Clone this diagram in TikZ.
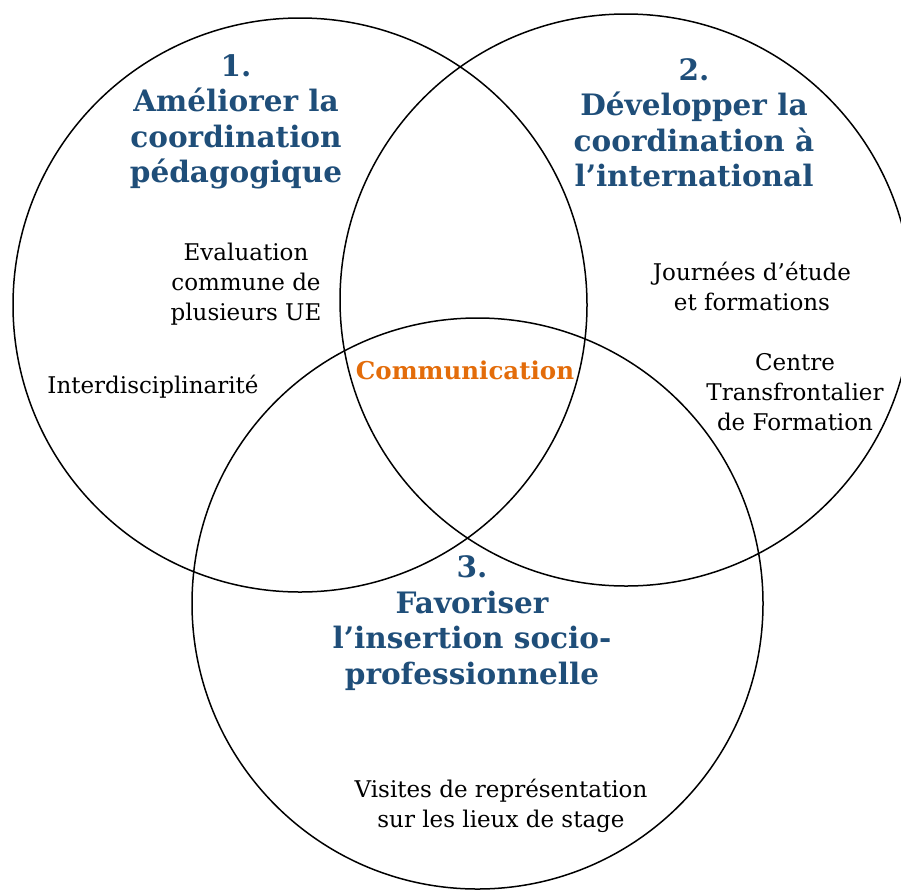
\documentclass[tikz,border=0pt]{standalone}
\usepackage{fontspec}
\setmainfont{DejaVu Serif}
\definecolor{headblue}{HTML}{1F4E79}
\definecolor{comorange}{HTML}{E36C0A}
\tikzset{
  venn/.style={draw=black, line width=1.5pt},
  heading/.style={text=headblue, align=center, inner sep=0pt, font=\bfseries\fontsize{29.5}{35.5}\selectfont},
  body/.style={text=black, align=center, inner sep=0pt, font=\fontsize{23}{30}\selectfont},
  common/.style={text=comorange, inner sep=0pt, font=\bfseries\fontsize{24.5}{28}\selectfont}
}
\begin{document}
\begin{tikzpicture}[x=1pt,y=-1pt]
\useasboundingbox (0,0) rectangle (901,889);
\draw[venn] (300,305) circle[radius=287pt];
\draw[venn] (626,300) circle[radius=286pt];
\draw[venn] (477.5,603.5) circle[radius=285.5pt];
\node[heading] (h1) at (236,122) {1.\\Améliorer la\\coordination\\pédagogique};
\node[heading] (h2) at (694,123) {2.\\Développer la\\coordination à\\l’international};
\node[heading] (h3) at (472,623) {3.\\Favoriser\\l’insertion socio-\\professionnelle};
\node[body] (eval) at (246,284) {Evaluation\\commune de\\plusieurs UE};
\node[body] (inter) at (153,387) {Interdisciplinarité};
\node[common] (com) at (465,370) {Communication};
\node[body] (journ) at (752,286) {Journées d’étude\\et formations};
\node[body] (centre) at (795,392) {Centre\\Transfrontalier\\de Formation};
\node[body] (visit) at (501,806) {Visites de représentation\\sur les lieux de stage};
\end{tikzpicture}
\end{document}
